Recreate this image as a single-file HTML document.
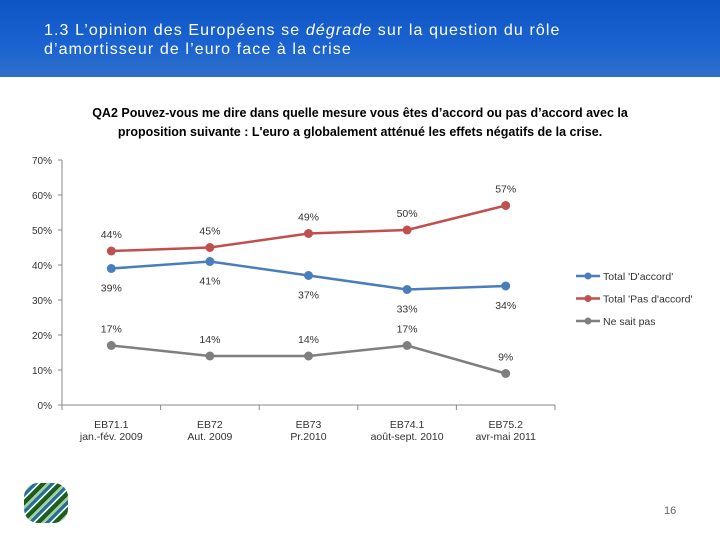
<!DOCTYPE html>
<html><head><meta charset="utf-8"><style>
body{margin:0;width:720px;height:540px;background:#fff;position:relative;overflow:hidden;font-family:"Liberation Sans",sans-serif}
#hdr{position:absolute;left:0;top:0;width:720px;height:77px;background:linear-gradient(#0d55c4,#1a63d0 60%,#2f6fc8)}
#ttl{position:absolute;left:44px;top:21px;color:#fff;font-size:16px;line-height:19px;letter-spacing:1.1px}
#ct{position:absolute;left:60px;top:104px;width:600px;text-align:center;font-weight:bold;font-size:12.5px;line-height:19px;color:#000}
</style></head><body>
<div id="hdr"></div>
<div id="ttl">1.3 L’opinion des Européens se <i>dégrade</i> sur la question du rôle<br>d’amortisseur de l’euro face à la crise</div>
<div id="ct">QA2 Pouvez-vous me dire dans quelle mesure vous êtes d’accord ou pas d’accord avec la<br>proposition suivante : L'euro a globalement atténué les effets négatifs de la crise.</div>
<svg id="chart" width="720" height="540" style="position:absolute;left:0;top:0"></svg>
<div style="position:absolute;left:24px;top:483px;width:44px;height:40px;border-radius:14px;background:repeating-linear-gradient(135deg,#1f5a1f 0 4px,#9fd09f 4px 7px,#2b6a9a 7px 10px,#dfe 10px 12px)"></div>
<div style="position:absolute;left:664px;top:505px;font-size:11px;color:#666">16</div>
<script>
const categories1=["EB71.1","EB72","EB73","EB74.1","EB75.2"];
const categories2=["jan.-fév. 2009","Aut. 2009","Pr.2010","août-sept. 2010","avr-mai 2011"];
const accord=[39,41,37,33,34];
const pasAccord=[44,45,49,50,57];
const nsp=[17,14,14,17,9];
const yTicks=[0,10,20,30,40,50,60,70];
const svg=document.getElementById('chart');const NS='http://www.w3.org/2000/svg';
const x0=62,x1=555,y0=405,y1=160;
const X=i=>x0+(x1-x0)/categories1.length*(i+0.5);
const Y=v=>y0-(y0-y1)*v/70;
function mk(t,a,txt){const e=document.createElementNS(NS,t);for(const k in a)e.setAttribute(k,a[k]);if(txt!=null)e.textContent=txt;svg.appendChild(e);return e;}
let e=mk('line',{x1:x0,y1:y1,x2:x0,y2:y0,stroke:'#888'});

e=mk('line',{x1:x0,y1:y0,x2:x1,y2:y0,stroke:'#888'});

yTicks.forEach(t=>{mk('line',{x1:x0-4,y1:Y(t),x2:x0,y2:Y(t),stroke:'#888'});
e=mk('text',{x:x0-10,y:Y(t)+4,'text-anchor':'end','font-size':10,fill:'#333'},t+'%');
});
for(let i=0;i<=categories1.length;i++)mk('line',{x1:x0+(x1-x0)/5*i,y1:y0,x2:x0+(x1-x0)/5*i,y2:y0+5,stroke:'#888'});
categories1.forEach((c,i)=>{e=mk('text',{x:X(i),y:y0+23,'text-anchor':'middle','font-size':10.5,fill:'#333'},c);

e=mk('text',{x:X(i),y:y0+35,'text-anchor':'middle','font-size':10.5,fill:'#333'},categories2[i]);
});
const series=[[accord,'#4a7ebb','total-d-accord',19],[pasAccord,'#c0504d','total-pas-d-accord',-17],[nsp,'#7f7f7f','ne-sait-pas',-17]];
series.forEach(([d,c,n,off])=>{
e=mk('polyline',{points:d.map((v,i)=>X(i)+','+Y(v)).join(' '),fill:'none',stroke:c,'stroke-width':2.5});

d.forEach((v,i)=>{e=mk('circle',{cx:X(i),cy:Y(v),r:4.5,fill:c});

e=mk('text',{x:X(i),y:Y(v)+off+4,'text-anchor':'middle','font-size':10.5,fill:'#333'},v+'%');
});});
const legendNames=["Total 'D'accord'","Total 'Pas d'accord'","Ne sait pas"];
series.forEach(([d,c,n],k)=>{const ly=276+k*22.5;
mk('line',{x1:576,y1:ly,x2:600,y2:ly,stroke:c,'stroke-width':2.5});mk('circle',{cx:588,cy:ly,r:3.5,fill:c});
e=mk('text',{x:603,y:ly+4,'font-size':10.5,fill:'#333'},legendNames[k]);
});
</script>
</body></html>
